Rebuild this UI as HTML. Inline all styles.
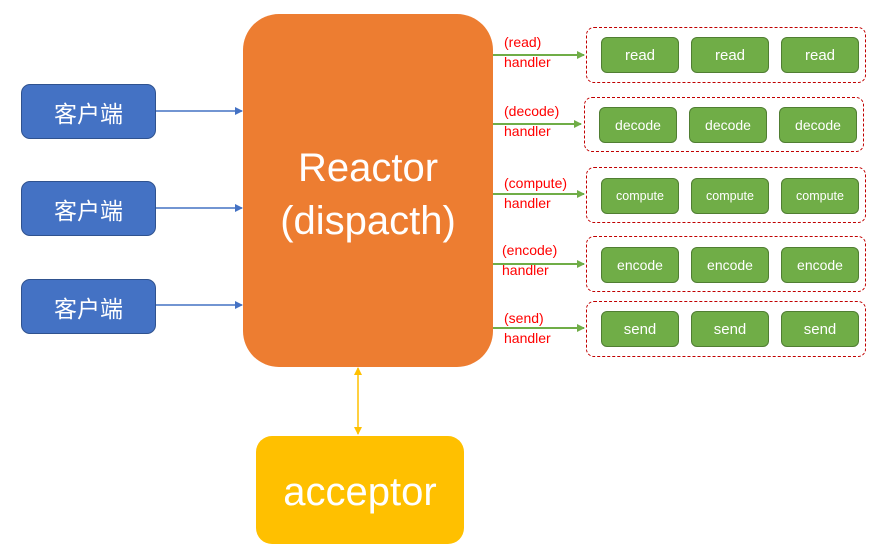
<!DOCTYPE html>
<html><head><meta charset="utf-8"><style>
body{margin:0;width:879px;height:553px;background:#fff;position:relative;overflow:hidden;font-family:"Liberation Sans","Noto Sans CJK SC",sans-serif}
.a{position:absolute;box-sizing:border-box}
.c{background:#4472C4;border:1px solid #2F528F;border-radius:9px;color:#fff;font-size:23px;display:flex;align-items:center;justify-content:center}
.g{background:#70AD47;border:1px solid #507E32;border-radius:6px;color:#fff;font-size:15px;display:flex;align-items:center;justify-content:center}
.d{border:1.3px dashed #C00000;border-radius:8px}
.l{color:#FF0000;font-size:14px;line-height:20px}
</style></head><body>
<div class="a c" style="left:21px;top:84px;width:135px;height:55px">客户端</div>
<div class="a c" style="left:21px;top:181px;width:135px;height:55px">客户端</div>
<div class="a c" style="left:21px;top:279px;width:135px;height:55px">客户端</div>
<div class="a" style="left:243px;top:14px;width:250px;height:353px;background:#ED7D31;border-radius:36px;color:#fff;font-size:40px;text-align:center;padding-top:128px;line-height:53px">Reactor<br>(dispacth)</div>
<div class="a" style="left:256px;top:436px;width:208px;height:108px;background:#FFC000;border-radius:16px;color:#fff;font-size:40px;display:flex;align-items:center;justify-content:center;padding-top:4px">acceptor</div>
<svg class="a" style="left:0;top:0" width="879" height="553">
<defs>
<marker id="b" markerWidth="8" markerHeight="8" refX="7" refY="4" orient="auto" markerUnits="userSpaceOnUse"><path d="M0,0L8,4L0,8z" fill="#4472C4"/></marker>
<marker id="gr" markerWidth="8" markerHeight="8" refX="7" refY="4" orient="auto" markerUnits="userSpaceOnUse"><path d="M0,0L8,4L0,8z" fill="#70AD47"/></marker>
<marker id="y" markerWidth="8" markerHeight="8" refX="7" refY="4" orient="auto-start-reverse" markerUnits="userSpaceOnUse"><path d="M0,0L8,4L0,8z" fill="#FFC000"/></marker>
</defs>
<g stroke="#4472C4" stroke-width="1.5" marker-end="url(#b)">
<line x1="156" y1="111" x2="242" y2="111"/><line x1="156" y1="208" x2="242" y2="208"/><line x1="156" y1="305" x2="242" y2="305"/></g>
<g stroke="#70AD47" stroke-width="2" marker-end="url(#gr)">
<line x1="493" y1="55" x2="584" y2="55"/><line x1="493" y1="124" x2="581" y2="124"/><line x1="493" y1="194" x2="584" y2="194"/><line x1="493" y1="264" x2="584" y2="264"/><line x1="493" y1="328" x2="584" y2="328"/></g>
<line x1="358" y1="368" x2="358" y2="434" stroke="#FFC000" stroke-width="1.5" marker-start="url(#y)" marker-end="url(#y)"/>
</svg>
<div class="a l" style="left:504px;top:32px">(read)<br>handler</div>
<div class="a l" style="left:504px;top:101px">(decode)<br>handler</div>
<div class="a l" style="left:504px;top:173px">(compute)<br>handler</div>
<div class="a l" style="left:502px;top:240px">(encode)<br>handler</div>
<div class="a l" style="left:504px;top:308px">(send)<br>handler</div>
<div class="a d" style="left:586px;top:27px;width:280px;height:56px"></div>
<div class="a d" style="left:584px;top:97px;width:280px;height:55px"></div>
<div class="a d" style="left:586px;top:167px;width:280px;height:56px"></div>
<div class="a d" style="left:586px;top:236px;width:280px;height:56px"></div>
<div class="a d" style="left:586px;top:301px;width:280px;height:56px"></div>
<div class="a g" style="left:601px;top:37px;width:78px;height:36px">read</div>
<div class="a g" style="left:691px;top:37px;width:78px;height:36px">read</div>
<div class="a g" style="left:781px;top:37px;width:78px;height:36px">read</div>
<div class="a g" style="left:599px;top:107px;width:78px;height:36px;font-size:14px">decode</div>
<div class="a g" style="left:689px;top:107px;width:78px;height:36px;font-size:14px">decode</div>
<div class="a g" style="left:779px;top:107px;width:78px;height:36px;font-size:14px">decode</div>
<div class="a g" style="left:601px;top:178px;width:78px;height:36px;font-size:12.5px">compute</div>
<div class="a g" style="left:691px;top:178px;width:78px;height:36px;font-size:12.5px">compute</div>
<div class="a g" style="left:781px;top:178px;width:78px;height:36px;font-size:12.5px">compute</div>
<div class="a g" style="left:601px;top:247px;width:78px;height:36px;font-size:14px">encode</div>
<div class="a g" style="left:691px;top:247px;width:78px;height:36px;font-size:14px">encode</div>
<div class="a g" style="left:781px;top:247px;width:78px;height:36px;font-size:14px">encode</div>
<div class="a g" style="left:601px;top:311px;width:78px;height:36px">send</div>
<div class="a g" style="left:691px;top:311px;width:78px;height:36px">send</div>
<div class="a g" style="left:781px;top:311px;width:78px;height:36px">send</div>
</body></html>
